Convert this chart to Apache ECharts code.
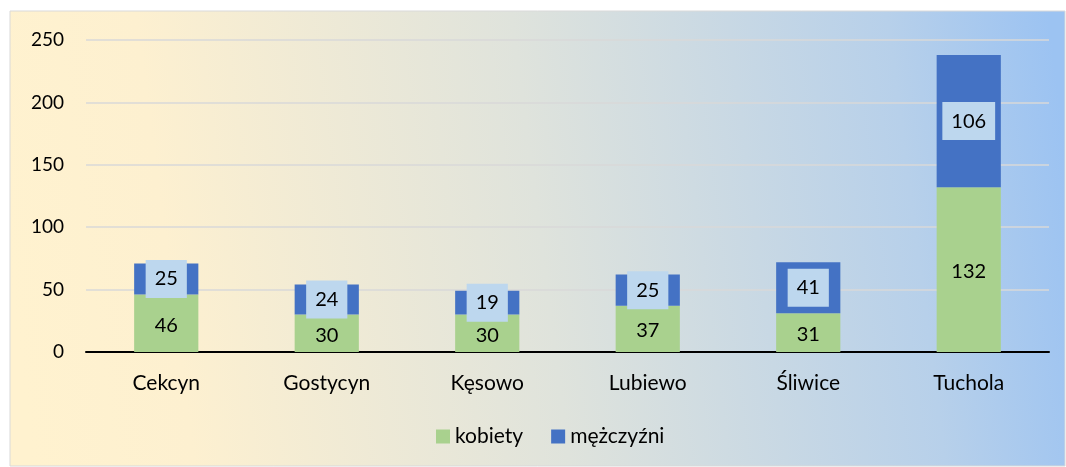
<!DOCTYPE html>
<html><head><meta charset="utf-8">
<script src="https://cdn.jsdelivr.net/npm/echarts@6/dist/echarts.min.js"></script>
<style>html,body{margin:0;padding:0;background:#fff}#c{width:1066px;height:467px}</style>
</head><body><div id="c"></div>
<script>
const categories = ['Cekcyn','Gostycyn','Kęsowo','Lubiewo','Śliwice','Tuchola'];
const kobiety = [46,30,30,37,31,132];
const mezczyzni = [25,24,19,25,41,106];
const seriesNames = ['kobiety','mężczyźni'];
const yTicks = {min:0, max:250, interval:50};
const FONT = 'Lato';
const chart = echarts.init(document.getElementById('c'));
chart.setOption({
  animation:false,
  graphic:[{type:'rect', z:-10, shape:{x:10,y:11,width:1055,height:455},
    style:{fill:new echarts.graphic.LinearGradient(0,0.6,1,0.3,[{offset:0,color:'#fff2cf'},{offset:0.15,color:'#fdf0d0'},{offset:0.5,color:'#dfe3dc'},{offset:0.85,color:'#b7d0ea'},{offset:1,color:'#9cc3f2'}]),
      stroke:'#d9d9d9', lineWidth:1}}],
  grid:{left:86,right:17,top:40,bottom:115,containLabel:false},
  legend:{bottom:15,left:431,itemWidth:14,itemHeight:14,itemGap:28,icon:'rect',
    textStyle:{fontFamily:FONT,fontSize:21,color:'#000'},data:seriesNames},
  xAxis:{type:'category',data:categories,
    axisLine:{lineStyle:{color:'#000',width:2}},axisTick:{show:false},
    axisLabel:{fontFamily:FONT,fontSize:21,color:'#000',margin:21}},
  yAxis:{type:'value',min:yTicks.min,max:yTicks.max,interval:yTicks.interval,
    axisLine:{show:false},axisTick:{show:false},
    splitLine:{lineStyle:{color:'#d9d9d9',width:1.5}},
    axisLabel:{fontFamily:FONT,fontSize:19,color:'#000',margin:22}},
  series:[
    {name:seriesNames[0],type:'bar',stack:'a',data:kobiety,barWidth:'40%',
     itemStyle:{color:'#a9d18e'},
     label:{show:true,position:'inside',fontFamily:FONT,fontSize:20,color:'#000',offset:[0,2]}},
    {name:seriesNames[1],type:'bar',stack:'a',data:mezczyzni,barWidth:'40%',
     itemStyle:{color:'#4472c4'},
     label:{show:true,position:'inside',fontFamily:FONT,fontSize:20,color:'#000',
       backgroundColor:'#bdd7ee',padding:[9,9,9,9]}}
  ]
});
</script></body></html>
